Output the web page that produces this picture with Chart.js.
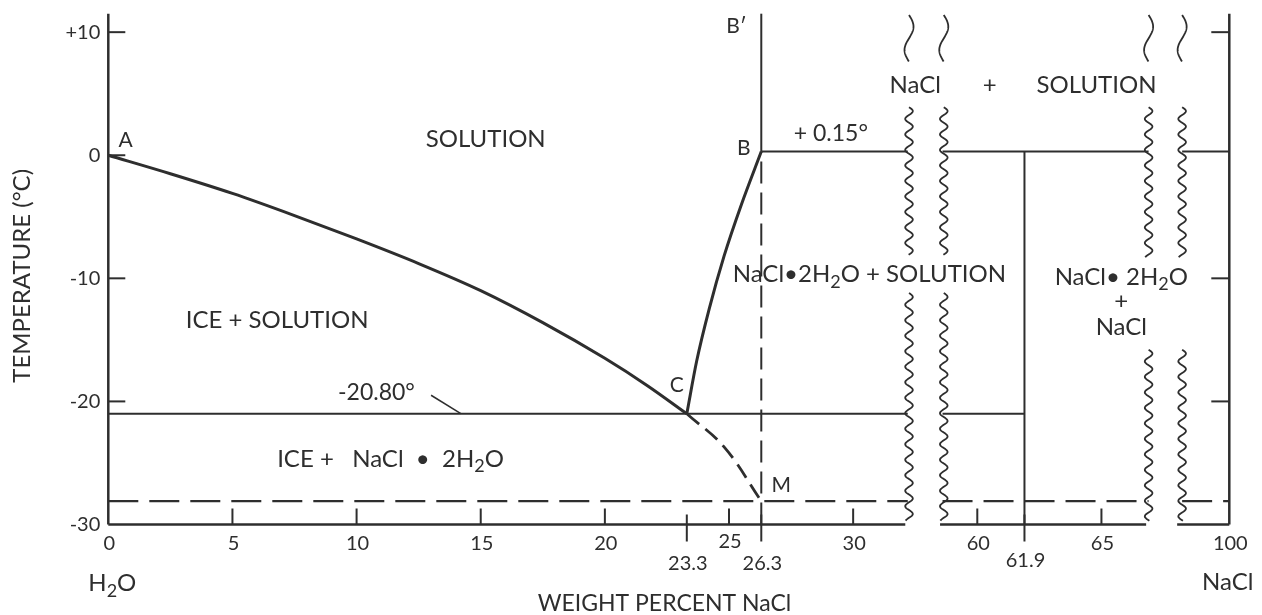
<!DOCTYPE html>
<html>
<head>
<meta charset="utf-8">
<script src="https://cdn.jsdelivr.net/npm/chart.js@4.4.0/dist/chart.umd.min.js"></script>
<style>
  html, body { margin: 0; padding: 0; background: #fff; }
  #chart { display: block; }
</style>
</head>
<body>
<canvas id="chart" width="1262" height="615"></canvas>
<script>
// weight percent NaCl vs temperature (C)
var iceLiquidusWt = [0, 2.5, 5, 7.5, 10, 12.5, 15, 17.5, 20, 21.7, 23.3];
var iceLiquidusT = [0, -1.5, -3.1, -4.9, -6.8, -8.8, -11.0, -13.6, -16.5, -18.7, -21.0];
var hydrateLiquidusWt = [23.3, 23.7, 24.2, 24.8, 25.5, 26.3];
var hydrateLiquidusT = [-21.0, -16.7, -12.5, -8.2, -4.0, 0.3];
var metastableWt = [23.3, 24.8, 26.3];
var metastableT = [-21.0, -23.7, -28.1];
var leaderWt = [13.0, 14.2];
var leaderT = [-19.5, -21.0];

var eutecticT = -21.0;
var peritecticT = 0.3;
var metaEutecticT = -28.1;
var hydrateWt = 26.3;
var hydrateNaClWt = 61.9;
var tMin = -30;
var tMax = 11.5;

// axis breaks (left edge, right edge) in weight percent
var breaks = [[32.2, 58.6], [66.9, 98.1]];

var xTicks = [5, 10, 15, 20, 25, 30, 60, 65];
var xLabelWt = [0, 5, 10, 15, 20, 25, 30, 60, 65, 100];
var xLabels = ["0", "5", "10", "15", "20", "25", "30", "60", "65", "100"];
var xMarks = [23.3, 26.3, 61.9];
var xMarkLabels = ["23.3", "26.3", "61.9"];
var yTicks = [10, 0, -10, -20];
var yLabelT = [10, 0, -10, -20, -30];
var yLabels = ["+10", "0", "-10", "-20", "-30"];
var yRightTicks = [10, -10, -20];

var ink = "#2e2e2e";
var font = "Lato";

// the broken axis: each block of the x axis is shifted left
var axisX = function (w) {
    if (w <= 45) return w;
    if (w <= 80) return w - 25.0;
    return w - 54.85;
};

var line = function (wts, ts, opts) {
    var pts = wts.map(function (w, i) { return { x: axisX(w), y: ts[i] }; });
    return Object.assign({
        data: pts, showLine: true, pointRadius: 0, borderColor: ink,
        borderWidth: 2, fill: false, clip: false, tension: 0
    }, opts || {});
};

var hSegments = function (segs, t, opts) {
    return segs.map(function (s) { return line(s, [t, t], opts); });
};

var fullRow = [[0, breaks[0][0]], [breaks[0][1], breaks[1][0]], [breaks[1][1], 100]];

var datasets = []
    .concat([line([0, 0], [tMin, tMax], { borderWidth: 2.5 })])
    .concat([line([100, 100], [tMin, tMax], { borderWidth: 2.5 })])
    .concat(hSegments([[0, 32.1], [58.5, 66.8], [97.9, 100]], tMin, { borderWidth: 2.5 }))
    .concat(hSegments([[hydrateWt, breaks[0][0]], [breaks[0][1], breaks[1][0]], [breaks[1][1], 100]], peritecticT))
    .concat(hSegments([[0, breaks[0][0]], [breaks[0][1], hydrateNaClWt]], eutecticT))
    .concat(hSegments(fullRow, metaEutecticT, { borderDash: [30, 11], borderWidth: 2.2 }))
    .concat([
        line([hydrateNaClWt, hydrateNaClWt], [tMin, peritecticT]),
        line([hydrateWt, hydrateWt], [peritecticT, tMax]),
        line([hydrateWt, hydrateWt], [tMin, peritecticT], { borderDash: [22, 9] }),
        line(iceLiquidusWt, iceLiquidusT, { borderWidth: 3, cubicInterpolationMode: "monotone" }),
        line(hydrateLiquidusWt, hydrateLiquidusT, { borderWidth: 3, cubicInterpolationMode: "monotone" }),
        line(metastableWt, metastableT, { borderWidth: 2.8, borderDash: [16, 8], tension: 0.4 }),
        line(leaderWt, leaderT, { borderWidth: 1.5 })
    ]);

// [text, wt, T, size, align]
var fieldLabels = [
    ["SOLUTION", 15.2, 1.3, 24, "center"],
    ["ICE + SOLUTION", 6.8, -13.4, 24, "center"],
    ["ICE +   NaCl  •  2H_2O", 6.8, -24.7, 24, "left"],
    ["-20.80°", 10.8, -19.3, 23, "center"],
    ["A", 0.7, 1.25, 21, "center"],
    ["B\u2032", 25.3, 10.5, 21, "center"],
    ["B", 25.6, 0.6, 21, "center"],
    ["+ 0.15°", 29.1, 1.75, 23, "center"],
    ["C", 22.9, -18.7, 21, "center"],
    ["M", 27.1, -26.85, 21, "center"],
    ["NaCl", 32.5, 5.7, 24, "center"],
    ["+", 60.5, 5.7, 24, "center"],
    ["SOLUTION", 64.8, 5.7, 24, "center"],
    ["NaCl•2H_2O + SOLUTION", 25.15, -9.7, 24, "left"],
    ["NaCl• 2H_2O", 65.8, -9.9, 24, "center"],
    ["+", 65.8, -11.9, 24, "center"],
    ["NaCl", 65.8, -14.0, 24, "center"]
];

// wavy break lines: [wt, T top, T bottom, single swing]
var squiggles = [
    [32.25, 11.4, 7.6, true], [58.65, 11.4, 7.6, true],
    [66.9, 11.4, 7.6, true], [98.1, 11.4, 7.6, true],
    [32.25, 3.9, -8.1, false], [58.65, 3.9, -8.1, false],
    [66.9, 3.9, -8.3, false], [98.1, 3.9, -8.3, false],
    [32.25, -11.2, -29.7, false], [58.65, -11.2, -29.7, false],
    [66.9, -15.8, -29.7, false], [98.1, -15.8, -29.7, false]
];

var drawRich = function (ctx, text, x, y, size, align) {
    var parts = text.split(/_(\d)/);
    var subSize = Math.round(size * 0.75);
    var widths = parts.map(function (p, i) {
        ctx.font = (i % 2 ? subSize : size) + "px " + font;
        return ctx.measureText(p).width;
    });
    var total = widths.reduce(function (a, b) { return a + b; }, 0);
    var cx = align === "center" ? x - total / 2 : (align === "right" ? x - total : x);
    ctx.textAlign = "left";
    ctx.textBaseline = "middle";
    parts.forEach(function (p, i) {
        ctx.font = (i % 2 ? subSize : size) + "px " + font;
        ctx.fillText(p, cx, y + (i % 2 ? size * 0.3 : 0));
        cx += widths[i];
    });
};

var wavy = function (ctx, x, y0, y1, single) {
    var len = y1 - y0;
    var wl = single ? len : 15.5;
    var amp = single ? 4.5 : 3.8;
    ctx.beginPath();
    for (var y = y0; y <= y1; y += 0.5) {
        var dx = amp * Math.sin(2 * Math.PI * (y - y0) / wl);
        if (y === y0) ctx.moveTo(x + dx, y); else ctx.lineTo(x + dx, y);
    }
    ctx.stroke();
};

var diagramPlugin = {
    id: "diagram",
    afterDatasetsDraw: function (chart) {
        var ctx = chart.ctx;
        var xs = chart.scales.x, ys = chart.scales.y;
        var px = function (w) { return xs.getPixelForValue(axisX(w)); };
        var py = function (t) { return ys.getPixelForValue(t); };
        var base = py(tMin);
        var left = px(0), right = px(100);

        ctx.save();
        ctx.strokeStyle = ink;
        ctx.fillStyle = ink;
        ctx.lineWidth = 2;

        yTicks.forEach(function (t) {
            ctx.beginPath(); ctx.moveTo(left, py(t)); ctx.lineTo(left + 17, py(t)); ctx.stroke();
        });
        yRightTicks.forEach(function (t) {
            ctx.beginPath(); ctx.moveTo(right, py(t)); ctx.lineTo(right - 18, py(t)); ctx.stroke();
        });
        xTicks.forEach(function (w) {
            ctx.beginPath(); ctx.moveTo(px(w), base); ctx.lineTo(px(w), base - 16); ctx.stroke();
        });
        xMarks.forEach(function (w) {
            ctx.beginPath(); ctx.moveTo(px(w), base - 10); ctx.lineTo(px(w), base + 17); ctx.stroke();
        });

        ctx.lineWidth = 1.8;
        squiggles.forEach(function (s) {
            wavy(ctx, px(s[0]), py(s[1]), py(s[2]), s[3]);
        });

        ctx.font = "20px " + font;
        ctx.textBaseline = "middle";
        ctx.textAlign = "right";
        yLabelT.forEach(function (t, i) { ctx.fillText(yLabels[i], left - 8, py(t)); });
        ctx.textAlign = "center";
        xLabelWt.forEach(function (w, i) {
            ctx.fillText(xLabels[i], px(w) + 1, base + (w === 25 ? 17 : 19));
        });
        xMarks.forEach(function (w, i) {
            ctx.fillText(xMarkLabels[i], px(w) + 1, base + (w === 61.9 ? 36 : 39));
        });

        fieldLabels.forEach(function (l) {
            drawRich(ctx, l[0], px(l[1]), py(l[2]), l[3], l[4]);
        });

        drawRich(ctx, "H_2O", left + 4, base + 59, 24, "center");
        drawRich(ctx, "NaCl", 1202, base + 58, 24, "left");
        drawRich(ctx, "WEIGHT PERCENT NaCl", px(22.4), base + 79, 23, "center");

        ctx.translate(22, py(-9.8));
        ctx.rotate(-Math.PI / 2);
        drawRich(ctx, "TEMPERATURE (°C)", 0, 0, 24, "center");
        ctx.restore();
    }
};

new Chart(document.getElementById("chart"), {
    type: "scatter",
    data: { datasets: datasets },
    options: {
        responsive: false,
        animation: false,
        devicePixelRatio: 1,
        layout: { padding: { left: 108.3, right: 32.7, top: 13.7, bottom: 90.5 } },
        plugins: { legend: { display: false }, tooltip: { enabled: false } },
        scales: {
            x: { type: "linear", display: false, min: 0, max: axisX(100) },
            y: { type: "linear", display: false, min: tMin, max: tMax }
        }
    },
    plugins: [diagramPlugin]
});
</script>
</body>
</html>
